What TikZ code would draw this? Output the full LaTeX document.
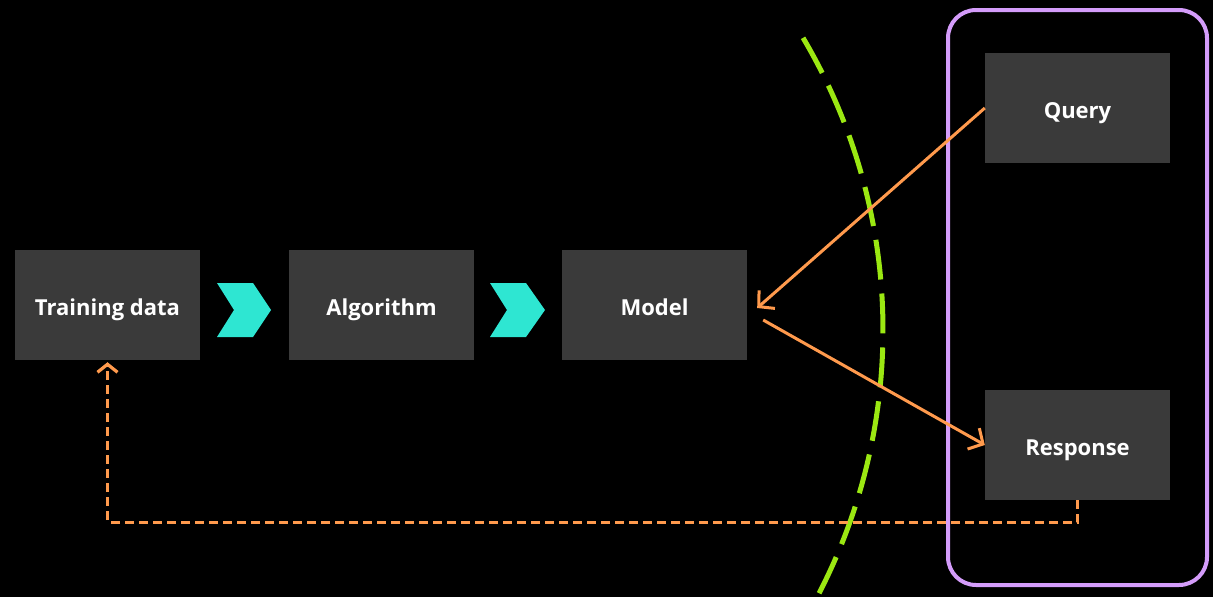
\documentclass[tikz,border=0pt]{standalone}
\usepackage{fontspec}
\setmainfont{Open Sans}
\usetikzlibrary{arrows.meta}
\definecolor{boxgray}{HTML}{3A3A3A}
\definecolor{teal}{HTML}{2EE6D2}
\definecolor{flow}{HTML}{FF9A4D}
\definecolor{limeg}{HTML}{9BE812}
\definecolor{lilac}{HTML}{D49CFA}
\tikzset{
  stagebox/.style={fill=boxgray, draw=none, minimum width=185pt, minimum height=110pt,
    inner sep=0pt, text=white, text height=20pt, text depth=0pt,
    font=\fontsize{22}{26}\selectfont\bfseries},
  chev/.style={fill=teal, draw=none},
  flowline/.style={draw=flow, line width=3pt, -{Straight Barb[length=11pt,width=24pt,line width=3pt]}},
  feedback/.style={draw=flow, line width=3.2pt, dash pattern=on 9pt off 5pt,
    -{Straight Barb[length=8pt,width=20pt,line width=3.2pt]}},
  boundary/.style={draw=limeg, line width=5pt, dash pattern=on 40pt off 14pt},
  client/.style={draw=lilac, line width=4pt, rounded corners=28pt}
}
\begin{document}
\begin{tikzpicture}[x=1pt,y=-1pt]
  \useasboundingbox[fill=black] (0,0) rectangle (1213,597);
  \begin{scope}
    \clip (0,0) rectangle (1213,597);

    % client frame
    \draw[client] (948,10) rectangle (1207,585);

    % stages
    \node[stagebox] (train) at (107.5,305) {Training data};
    \node[stagebox] (algo)  at (381.5,305) {Algorithm};
    \node[stagebox] (model) at (654.5,305) {Model};
    \node[stagebox] (query) at (1077.5,108) {Query};
    \node[stagebox] (resp)  at (1077.5,445) {Response};

    % chevrons between stages
    \fill[chev] (217,283) -- (253,283) -- (271,310) -- (253,337) -- (217,337) -- (234,310) -- cycle;
    \fill[chev] (490,283) -- (526,283) -- (545,310) -- (526,337) -- (490,337) -- (507,310) -- cycle;

    % boundary arc
    \coordinate (ctr) at (309,330);
    \draw[boundary] (ctr) ++(-30.6:574) arc[start angle=-30.6, end angle=28, radius=574];

    % request / response
    \draw[flowline] (query.west) -- ([xshift=10pt,yshift=-3pt]model.east);
    \draw[flowline] ([xshift=16pt,yshift=-15pt]model.east) -- (resp.west);

    % feedback loop
    \draw[feedback] (resp.south) -- ++(0,22) -| ([yshift=-2pt]train.south);
  \end{scope}
\end{tikzpicture}
\end{document}
